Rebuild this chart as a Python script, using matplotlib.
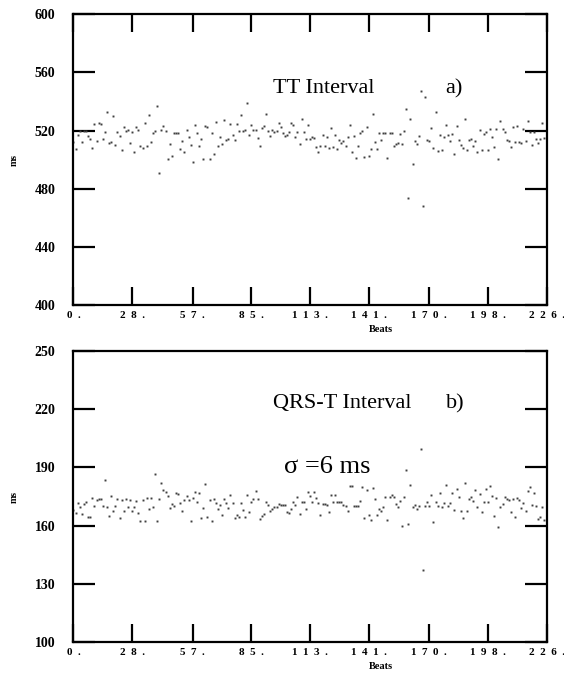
import matplotlib
matplotlib.use('Agg')
import matplotlib.pyplot as plt
import matplotlib.transforms as mtransforms
import numpy as np

# TT interval (ms), one value per beat, read off panel a)
tt = [512.0,
      507.0, 517.2, 520.0, 512.0, 520.0, 519.5, 516.1, 514.5, 508.1, 524.6,
      512.7, 525.3, 524.6, 514.3, 518.9, 532.6, 511.5, 512.4, 529.8, 510.4,
      518.9, 516.5, 506.5, 522.5, 519.5, 520.7, 511.3, 519.0, 505.5, 522.7,
      520.7, 509.7, 508.1, 525.3, 509.7, 530.5, 512.0, 518.4, 519.5, 536.7,
      490.9, 520.7, 523.4, 520.0, 500.1, 510.8, 502.8, 518.4, 518.4, 518.4,
      507.4, 513.1, 505.3, 520.7, 515.4, 510.1, 498.2, 523.7, 518.4, 509.2,
      514.5, 500.1, 523.0, 522.3, 500.1, 518.6, 504.0, 526.0, 509.7,
      515.4, 510.8, 527.1, 513.8, 514.5, 524.4, 517.2, 513.8, 524.8, 519.5,
      531.0, 519.8, 520.7, 538.6, 516.8, 523.9, 520.7, 520.7, 515.0, 509.7,
      521.8, 523.4, 531.2, 519.5, 516.3, 520.2, 519.0, 520.0, 525.0, 522.3,
      518.4, 516.5, 517.2, 519.0, 525.5, 524.1, 515.9, 519.0, 510.6, 527.6,
      518.9, 514.5, 523.7, 514.5, 515.4, 514.9, 509.0, 505.5, 509.5, 516.8,
      509.5, 515.4, 508.1, 522.0, 509.0, 517.0, 507.6, 513.6, 511.5, 513.1,
      509.5, 515.4, 523.7, 505.1, 516.5, 500.8, 509.5, 518.4, 520.0, 502.1,
      522.5, 502.4, 507.6, 531.2, 511.8, 507.6,
      518.4, 513.8, 518.4, 518.4, 500.8, 518.4, 518.4, 509.7, 510.8, 511.5,
      517.7, 510.8, 520.0, 535.1, 473.7, 528.0, 497.3, 512.7, 511.0, 516.5,
      547.0, 467.8, 542.9, 513.8, 512.7, 521.8, 508.1, 532.6, 505.8, 517.2,
      506.3, 515.7, 523.7, 517.2, 512.7, 517.7, 503.7, 523.0, 513.8, 510.4,
      508.1, 528.2, 506.3, 513.8, 514.5, 509.2, 512.7, 505.1, 520.7, 506.7,
      517.7, 519.0, 506.3, 521.4, 515.6, 508.5, 521.4, 500.1, 526.9, 521.4,
      519.0, 513.8, 513.1, 508.5, 522.5, 512.2, 523.0, 512.2, 511.5, 521.4,
      512.9, 526.4, 519.0, 509.9, 518.9, 514.0, 511.5, 514.5, 525.3, 515.0,
      527.6]

# QRS-T interval (ms), read off panel b)
qrst = [168.0,
        166.3, 171.5, 169.8, 166.0, 171.0, 172.3, 164.3, 164.3, 174.0, 170.1,
        173.2, 173.7, 173.5, 170.1, 183.3, 169.4, 165.1, 175.3, 167.7, 170.3,
        173.5, 163.8, 173.2, 167.7, 173.7, 169.4, 173.2, 167.7, 169.8, 172.8,
        166.6, 162.4, 173.2, 162.4, 174.0, 168.4, 174.4, 169.8, 186.6, 162.4,
        173.7, 181.8, 178.4, 177.1, 175.3, 169.2, 171.0, 170.3, 176.6, 176.3,
        171.5, 167.7, 173.2, 175.3, 173.2, 162.4, 174.4, 177.1, 172.3, 176.6,
        163.8, 169.2, 181.3, 164.3, 173.2, 162.5, 173.7, 171.5, 168.4, 170.6,
        165.5, 173.7,
        171.5, 168.9, 175.8, 171.5, 163.8, 165.5, 164.6, 171.5, 168.0, 164.6,
        175.8, 167.2, 172.3, 173.7, 178.0, 173.7, 163.4, 165.0, 165.8, 172.3,
        170.6, 167.7, 168.4, 169.4, 169.4, 171.0, 170.6, 170.6, 170.6, 167.2,
        166.6, 168.4, 172.0, 170.6, 174.6, 165.8, 172.3, 172.3, 168.4, 177.5,
        175.4, 172.3, 177.1, 174.0, 171.5, 165.5, 171.1, 171.0, 170.6, 167.2,
        175.8, 172.3, 175.8, 172.3, 172.3, 172.3, 170.6, 170.1, 167.7, 180.4,
        180.4, 170.1, 170.3, 170.1, 172.7, 180.1, 164.1, 178.4, 165.5, 162.9,
        179.2, 173.5, 165.5,
        168.4, 167.7, 169.8, 174.6, 162.9, 174.6, 175.8, 174.6, 171.1, 169.4,
        172.7, 159.8, 174.6, 188.7, 160.6, 180.9, 169.4, 170.6, 168.6, 170.1,
        199.5, 137.0, 170.1, 172.3, 170.1, 175.8, 162.0, 172.3, 170.1, 177.0,
        169.4, 171.5, 180.9, 170.1, 171.5, 177.0, 168.0, 178.7, 174.9, 167.7,
        163.8, 181.8, 167.7, 173.7, 174.6, 172.8, 178.4, 169.4, 176.3, 166.8,
        172.3, 178.9, 172.3, 180.4, 175.3, 164.9, 174.4, 159.4, 169.4, 171.0,
        174.9, 173.5, 173.2, 166.8, 173.5, 164.6, 174.0, 173.2, 169.2, 171.8,
        167.7, 178.0, 180.1, 170.6, 176.6, 170.1, 163.2, 164.3, 169.4, 162.9,
        170.1]

beat_ticks = [0, 28, 57, 85, 113, 141, 170, 198, 226]
beat_labels = ['0  .', '2  8  .', '5  7  .', '8  5  .', '1  1  3  .',
               '1  4  1  .', '1  7  0  .', '1  9  8  .', '2  2  6  .']
tt_ticks = [400, 440, 480, 520, 560, 600]
qrst_ticks = [100, 130, 160, 190, 220, 250]

serif = ['Liberation Serif', 'DejaVu Serif']

fig = plt.figure(figsize=(5.64, 6.75), dpi=100)
ax1 = fig.add_axes([0.1303, 0.548, 0.8387, 0.431])
ax2 = fig.add_axes([0.1303, 0.0489, 0.8387, 0.431])

shift = mtransforms.ScaledTranslation(-0.05, 0, fig.dpi_scale_trans)


def style(ax, yticks, top_ticks):
    ax.set_xlim(0, 226)
    ax.set_ylim(yticks[0], yticks[-1])
    for s in ax.spines.values():
        s.set_linewidth(1.6)
    ax.set_xticks(beat_ticks)
    ax.set_xticklabels(beat_labels, family=serif, fontweight='bold', fontsize=8)
    for lab in ax.get_xticklabels():
        lab.set_transform(lab.get_transform() + shift)
    ax.set_yticks(yticks)
    ax.set_yticklabels([str(v) for v in yticks], family=serif,
                       fontweight='bold', fontsize=10)
    ax.tick_params(axis='x', direction='in', length=13, width=1.6,
                   top=top_ticks, pad=4)
    ax.tick_params(axis='y', direction='in', length=16, width=1.6,
                   right=True, pad=13)
    ax.set_ylabel('ms', family=serif, fontweight='bold', fontsize=7)
    ax.yaxis.set_label_coords(-0.115, 0.5)
    ax.set_xlabel('Beats', family=serif, fontweight='bold', fontsize=7.5)
    ax.xaxis.set_label_coords(0.65, -0.07)


x = np.arange(len(tt))
ax1.plot(x, tt, 's', color='0.25', markersize=1.4, markeredgewidth=0)
style(ax1, tt_ticks, True)
ax1.text(0.53, 0.745, 'TT Interval', transform=ax1.transAxes, ha='center',
         va='center', family=serif, fontsize=16)
ax1.text(0.805, 0.745, 'a)', transform=ax1.transAxes, ha='center',
         va='center', family=serif, fontsize=16)

x2 = np.arange(len(qrst))
ax2.plot(x2, qrst, 's', color='0.25', markersize=1.4, markeredgewidth=0)
style(ax2, qrst_ticks, False)
ax2.text(0.568, 0.82, 'QRS-T Interval', transform=ax2.transAxes, ha='center',
         va='center', family=serif, fontsize=16)
ax2.text(0.808, 0.82, 'b)', transform=ax2.transAxes, ha='center',
         va='center', family=serif, fontsize=16)
ax2.text(0.445, 0.6, 'σ =6 ms', transform=ax2.transAxes, ha='left',
         va='center', family=serif, fontsize=19)

fig.savefig('out.png', dpi=100)
